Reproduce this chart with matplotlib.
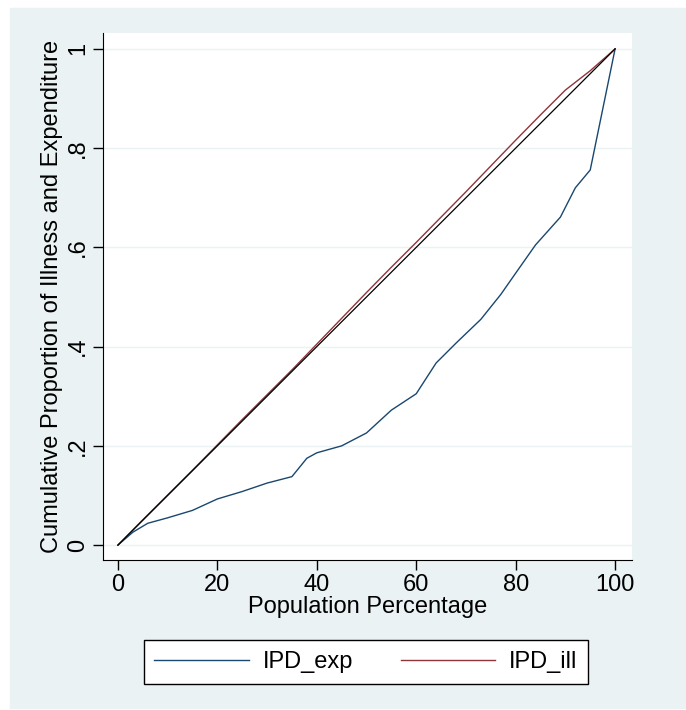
import matplotlib
matplotlib.use("Agg")
import matplotlib.pyplot as plt
from matplotlib.patches import Rectangle

plt.rcParams['font.family'] = ['Liberation Sans', 'DejaVu Sans']

# population percentage / cumulative share
pop_exp = [0, 3, 6, 10, 15, 20, 25, 30, 35, 38, 40, 45, 50, 55, 60, 64, 68,
           73, 77, 80, 84, 89, 92, 95, 100]
ipd_exp = [0, 0.026, 0.044, 0.055, 0.070, 0.093, 0.108, 0.125, 0.138, 0.175,
           0.186, 0.200, 0.226, 0.272, 0.305, 0.367, 0.407, 0.455, 0.505,
           0.548, 0.605, 0.661, 0.720, 0.756, 1.0]

pop_ill = [0, 5, 10, 15, 20, 25, 30, 35, 40, 45, 50, 55, 60, 65, 70, 75, 80,
           85, 90, 95, 100]
ipd_ill = [0, 0.051, 0.101, 0.151, 0.202, 0.253, 0.303, 0.353, 0.405, 0.457,
           0.509, 0.560, 0.610, 0.661, 0.712, 0.764, 0.816, 0.867, 0.917,
           0.956, 1.0]

equal_x = [0, 100]
equal_y = [0, 1]

xticks = [0, 20, 40, 60, 80, 100]
yticks = [0, 0.2, 0.4, 0.6, 0.8, 1.0]
ytick_labels = ['0', '.2', '.4', '.6', '.8', '1']

W, H = 686, 710
fig = plt.figure(figsize=(W / 100, H / 100), dpi=100, facecolor='white')
fig.patches.append(Rectangle((10 / W, 2 / H), 676 / W, 700 / H,
                             transform=fig.transFigure, color='#eaf2f3',
                             zorder=-10))

ax = fig.add_axes([103 / W, 1 - 560 / H, 529 / W, 527 / H])
ax.set_facecolor('white')

ax.plot(pop_exp, ipd_exp, color='#1a476f', lw=1.0, label='IPD_exp')
ax.plot(pop_ill, ipd_ill, color='#90353b', lw=1.0, label='IPD_ill')
ax.plot(equal_x, equal_y, color='black', lw=0.9)

ax.set_xlim(-3.0, 103.4)
ax.set_ylim(-0.030, 1.032)
ax.set_xticks(xticks)
ax.set_yticks(yticks)
ax.set_yticklabels(ytick_labels, rotation=90, va='center')
ax.tick_params(labelsize=17, length=7, width=1, direction='out', pad=3)
ax.grid(axis='y', color='#eaf2f3', lw=1)
ax.set_axisbelow(True)
for s in ['top', 'right']:
    ax.spines[s].set_visible(False)

ax.set_xlabel('Population Percentage', fontsize=17, labelpad=0)
ax.set_ylabel('Cumulative Proportion of Illness and Expenditure', fontsize=17,
              labelpad=3)

leg = fig.legend(loc='center', bbox_to_anchor=(366 / W, 1 - 662 / H), ncol=2,
                 fontsize=17, frameon=True, fancybox=False, edgecolor='black',
                 facecolor='white', framealpha=1,
                 handlelength=4.0, columnspacing=2.0, borderpad=0.45,
                 handletextpad=0.6)
leg.get_frame().set_linewidth(1.0)

fig.savefig('out.png', dpi=100, facecolor=fig.get_facecolor())
